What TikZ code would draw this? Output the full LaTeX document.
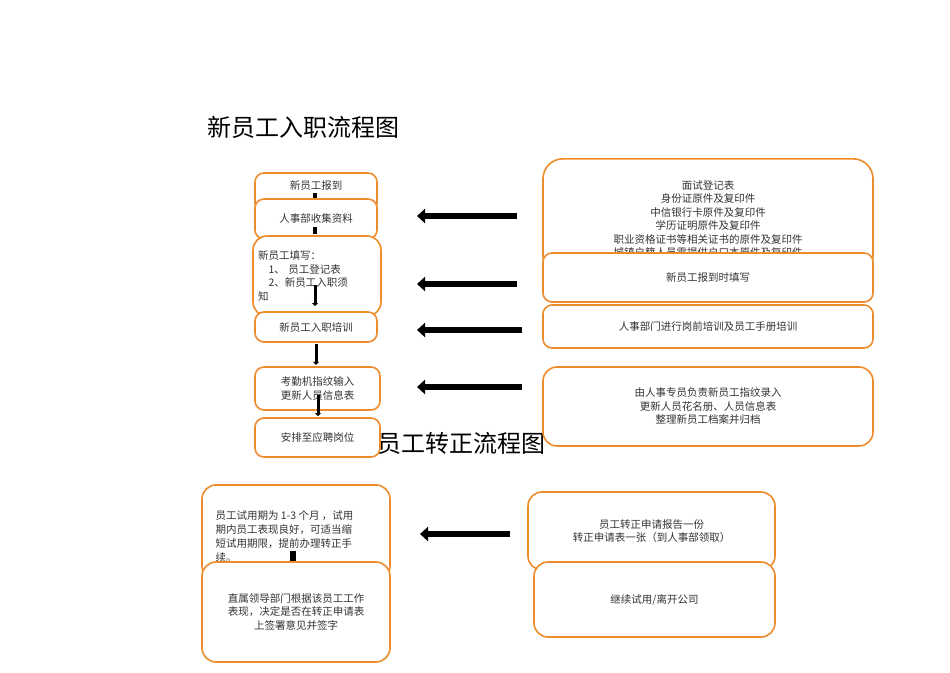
\documentclass[tikz,border=0pt]{standalone}
\usepackage{fontspec}
\setmainfont{Noto Sans CJK SC}
\usetikzlibrary{arrows.meta}
\tikzset{
 box/.style={draw=orange!70!brown!90, line width=1.6pt, rounded corners=9pt, fill=white, inner sep=2pt, font=\fontsize{10.5}{13.5}\selectfont, text=black!80, align=center},
 bigarrow/.style={line width=6pt, -{Triangle[length=8pt,width=14pt]}},
 smallarrow/.style={line width=3pt, -{Triangle[length=3pt,width=6pt]}},
 ttl/.style={font=\fontsize{24}{27}\selectfont, anchor=west}
}
\begin{document}
\begin{tikzpicture}[x=1pt,y=-1pt]
\useasboundingbox (0,0) rectangle (950,672);
\node[ttl] (t1) at (204,127) {新员工入职流程图};
\node[ttl, anchor=east] (t2) at (549,443) {新员工转正流程图};
% left column
\node[box, minimum width=122, minimum height=39] (L1) at (316,192.5) {\raisebox{0pt}[0pt][6pt]{新员工报到}};
\node[box, minimum width=122, minimum height=40] (L2) at (316,219) {人事部收集资料};
\node[box, minimum width=128, minimum height=80, rounded corners=14pt, align=left, text width=118] (L3) at (317,276) {新员工填写：\\\ \ \ 1、 员工登记表\\\ \ \ 2、新员工入职须\\知};
\node[box, minimum width=122, minimum height=30] (L4) at (316,327) {新员工入职培训};
\node[box, minimum width=125, minimum height=43] (L5) at (317.5,388.5) {考勤机指纹输入\\更新人员信息表};
\node[box, minimum width=125, minimum height=39] (L6) at (317.5,437.5) {安排至应聘岗位};
\draw[line width=4pt] (315,193) -- (315,198);
\draw[line width=4pt] (315,227) -- (315,234);
\draw[smallarrow] (315,285) -- (315,306);
\draw[smallarrow] (L4.south) ++(0,1) -- ++(0,21);
\draw[smallarrow] (318,395) -- (318,416);
% right column
\node[box, minimum width=330, minimum height=117, rounded corners=20pt, anchor=north] (R1) at (708,158) {};
\node[font=\fontsize{10.5}{13.5}\selectfont, text=black!80, align=center, anchor=north] (R1t) at (708,177) {面试登记表\\身份证原件及复印件\\中信银行卡原件及复印件\\学历证明原件及复印件\\职业资格证书等相关证书的原件及复印件\\城镇户籍人员需提供户口本原件及复印件};
\node[box, minimum width=330, minimum height=49] (R2) at (708,277.5) {新员工报到时填写};
\node[box, minimum width=330, minimum height=43] (R3) at (708,326.5) {人事部门进行岗前培训及员工手册培训};
\node[box, minimum width=330, minimum height=79, rounded corners=14pt] (R4) at (708,406.5) {由人事专员负责新员工指纹录入\\更新人员花名册、人员信息表\\整理新员工档案并归档};
\draw[bigarrow] (517,216) -- (417,216);
\draw[bigarrow] (517,284) -- (417,284);
\draw[bigarrow] (522,330) -- (417,330);
\draw[bigarrow] (522,387) -- (417,387);
% bottom
\node[box, minimum width=188, minimum height=95, rounded corners=14pt] (B1) at (296,532.5) {};
\node[font=\fontsize{10.5}{14}\selectfont, text=black!80, align=left, anchor=north west] (B1t) at (212,507) {员工试用期为 1-3 个月 ，试用\\期内员工表现良好，可适当缩\\短试用期限，提前办理转正手\\续。};
\node[box, minimum width=188, minimum height=100, rounded corners=14pt] (B2) at (296,612) {直属领导部门根据该员工工作\\表现，决定是否在转正申请表\\上签署意见并签字};
\draw[line width=6pt] (293,551) -- (293,561);
\node[box, minimum width=247, minimum height=78, rounded corners=14pt] (BR1) at (651.5,531) {员工转正申请报告一份\\转正申请表一张（到人事部领取）};
\node[box, minimum width=241, minimum height=75, rounded corners=14pt] (BR2) at (654.5,599.5) {继续试用/离开公司};
\draw[bigarrow] (510,534) -- (420,534);
\end{tikzpicture}
\end{document}
